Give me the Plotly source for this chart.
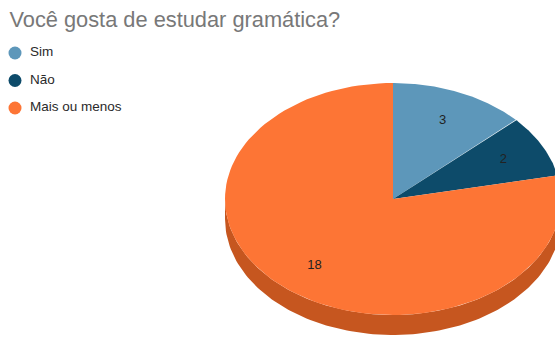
import numpy as np
import plotly.graph_objects as go

# Survey answers
categories = ["Sim", "Não", "Mais ou menos"]
values = [3, 2, 18]
colors = ["#5d97ba", "#0d4b6a", "#fd7535"]
side_colors = ["#4a7a96", "#0a3a52", "#c6561f"]
title = "Você gosta de estudar gramática?"

# Geometry of the tilted pie (pixel space, y grows downward)
W, H = 555, 341
cx, cy = 393, 199
rx, ry = 168, 116
depth = 20
label_frac = 0.74


def arc(t0, t1, n=120):
    t = np.radians(np.linspace(t0, t1, n))
    return cx + rx * np.sin(t), cy - ry * np.cos(t)


fig = go.Figure()

total = sum(values)
bounds = np.concatenate([[0], np.cumsum(values) / total * 360.0])

# Front wall: only the lower half of the rim faces the viewer
for i in range(len(values)):
    a0, a1 = max(bounds[i], 90.0), min(bounds[i + 1], 270.0)
    if a1 <= a0:
        continue
    x, y = arc(a0, a1)
    xs = np.concatenate([x, x[::-1]])
    ys = np.concatenate([y, (y + depth)[::-1]])
    fig.add_trace(go.Scatter(x=xs, y=ys, fill="toself", fillcolor=side_colors[i],
                             mode="lines", line=dict(width=0, color=side_colors[i]),
                             hoverinfo="skip", showlegend=False))

# Top faces
for i in range(len(values)):
    x, y = arc(bounds[i], bounds[i + 1])
    xs = np.concatenate([[cx], x, [cx]])
    ys = np.concatenate([[cy], y, [cy]])
    fig.add_trace(go.Scatter(x=xs, y=ys, fill="toself", fillcolor=colors[i],
                             mode="lines", line=dict(width=0, color=colors[i]),
                             name=categories[i], hoverinfo="skip", showlegend=False))

# Value labels at the middle of each slice
mids = np.radians((bounds[:-1] + bounds[1:]) / 2)
fig.add_trace(go.Scatter(
    x=cx + label_frac * rx * np.sin(mids),
    y=cy - label_frac * ry * np.cos(mids),
    mode="text", text=[str(v) for v in values],
    textfont=dict(family="Liberation Sans, Arial", size=13, color="#222222"),
    hoverinfo="skip", showlegend=False))

# Legend column
leg_x, leg_y0, leg_step = 15, 53, 27.5
leg_y = [leg_y0 + k * leg_step for k in range(len(categories))]
fig.add_trace(go.Scatter(
    x=[leg_x] * len(categories), y=leg_y, mode="markers",
    marker=dict(size=13, color=colors),
    hoverinfo="skip", showlegend=False))
fig.add_trace(go.Scatter(
    x=[leg_x + 15] * len(categories), y=leg_y, mode="text",
    text=categories, textposition="middle right",
    textfont=dict(family="Liberation Sans, Arial", size=13.5, color="#2a2a2a"),
    hoverinfo="skip", showlegend=False))

fig.update_layout(
    width=W, height=H,
    margin=dict(l=0, r=0, t=0, b=0),
    paper_bgcolor="white", plot_bgcolor="white",
    title=dict(text=title, x=0.017, xanchor="left", xref="paper",
               y=1 - 19 / H, yanchor="middle", yref="container",
               font=dict(family="Liberation Sans, Arial", size=21.8, color="#787878")),
    xaxis=dict(range=[0, W], visible=False, fixedrange=True),
    yaxis=dict(range=[H, 0], visible=False, fixedrange=True),
    showlegend=False,
)

fig.write_html("out.html")
